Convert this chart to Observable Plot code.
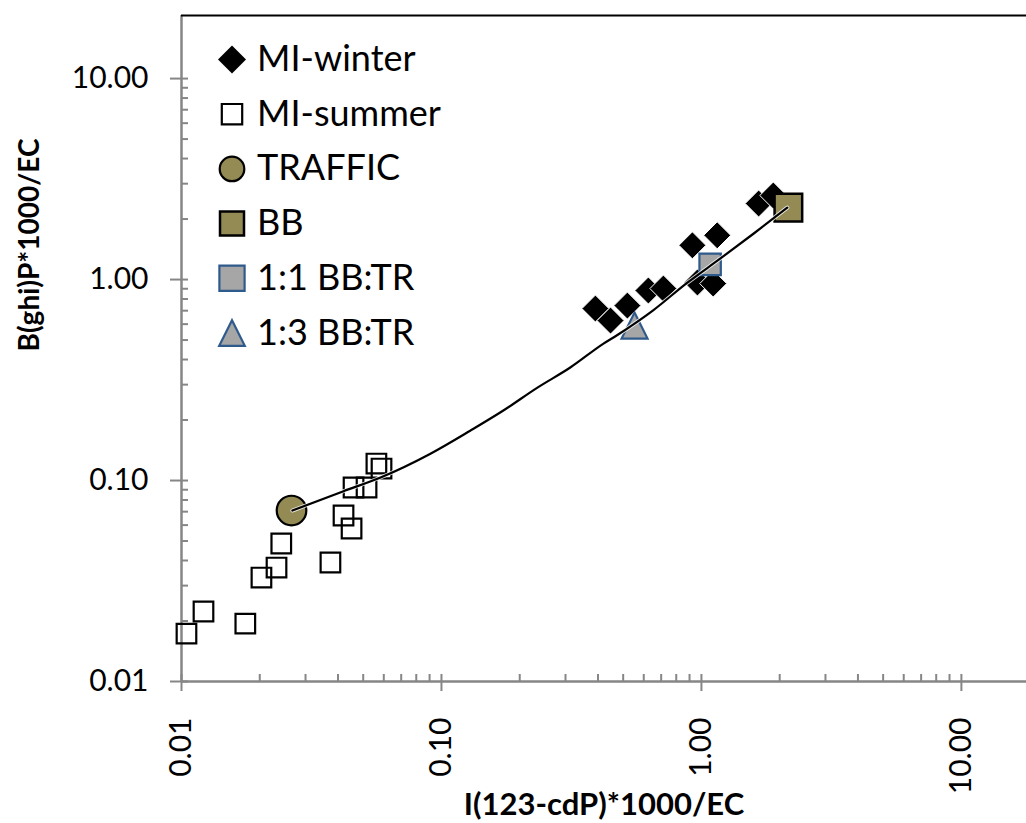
<!DOCTYPE html>
<html>
<head>
<meta charset="utf-8">
<script src="https://cdn.jsdelivr.net/npm/d3@7"></script>
<script src="https://cdn.jsdelivr.net/npm/@observablehq/plot@0.6"></script>
<style>
html, body { margin: 0; padding: 0; background: #fff; }
#wrap { position: relative; width: 1026px; height: 823px; font-family: Lato, "Open Sans", sans-serif; }
#wrap svg { display: block; }
#legend { position: absolute; left: 0; top: 0; pointer-events: none; }
</style>
</head>
<body>
<div id="wrap"></div>
<script>
// ---------- data ----------
const seriesNames = ["MI-winter", "MI-summer", "TRAFFIC", "BB", "1:1 BB:TR", "1:3 BB:TR"];

const winterX = [0.391, 0.447, 0.519, 0.625, 0.714, 0.923, 1.15, 0.965, 1.11, 1.66, 1.89];
const winterY = [0.717, 0.625, 0.742, 0.882, 0.902, 1.48, 1.66, 0.967, 0.955, 2.39, 2.62];

const summerX = [0.01045, 0.01215, 0.0176, 0.0203, 0.0232, 0.0242, 0.0374, 0.042, 0.0451, 0.0459, 0.0515, 0.0562, 0.0588];
const summerY = [0.0173, 0.0223, 0.0194, 0.0329, 0.0369, 0.0486, 0.0391, 0.067, 0.0577, 0.0923, 0.0923, 0.1215, 0.1147];

const trafficX = [0.0265];
const trafficY = [0.0709];
const bbX = [2.16];
const bbY = [2.28];
const mix11X = [1.08];
const mix11Y = [1.19];
const mix13X = [0.553];
const mix13Y = [0.59];

// mixing line
const lineX = [0.0267, 0.042, 0.0583, 0.0907, 0.129, 0.173, 0.234, 0.313, 0.420, 0.475, 0.654, 0.883, 1.18, 1.585, 2.14];
const lineY = [0.0709, 0.0885, 0.1035, 0.136, 0.177, 0.223, 0.290, 0.365, 0.480, 0.530, 0.705, 0.965, 1.27, 1.69, 2.28];

const xTickValues = [0.01, 0.1, 1, 10];
const xTickLabels = ["0.01", "0.10", "1.00", "10.00"];
const yTickValues = [0.01, 0.1, 1, 10];
const yTickLabels = ["0.01", "0.10", "1.00", "10.00"];
const minorTickValues = [0.02, 0.03, 0.04, 0.05, 0.06, 0.07, 0.08, 0.09,
                         0.2, 0.3, 0.4, 0.5, 0.6, 0.7, 0.8, 0.9,
                         2, 3, 4, 5, 6, 7, 8, 9];

const xTitle = "I(123-cdP)*1000/EC";
const yTitle = "B(ghi)P*1000/EC";

// ---------- helpers ----------
const pts = (xs, ys) => xs.map((x, i) => ({x, y: ys[i]}));
const half = (size) => Math.sqrt(size / Math.PI);
const symSquare = {draw(ctx, size) { const r = half(size); ctx.rect(-r, -r, 2 * r, 2 * r); }};
const symDiamond = {draw(ctx, size) { const r = half(size); ctx.moveTo(0, -r); ctx.lineTo(r, 0); ctx.lineTo(0, r); ctx.lineTo(-r, 0); ctx.closePath(); }};
const symTriangle = {draw(ctx, size) { const r = half(size); ctx.moveTo(0, -r); ctx.lineTo(r, r); ctx.lineTo(-r, r); ctx.closePath(); }};

const olive = "#948A54";
const grayFill = "#A6A6A6";
const blueStroke = "#2F5A8C";
const axisGray = "#868686";
const font = "Lato, 'Open Sans', sans-serif";

const W = 1026, H = 823;
const mL = 181, mR = 0, mT = 15, mB = 142;

const chart = Plot.plot({
  width: W,
  height: H,
  marginLeft: mL,
  marginRight: mR,
  marginTop: mT,
  marginBottom: mB,
  x: {type: "log", domain: [0.01, 17.8], axis: null},
  y: {type: "log", domain: [0.01, 20.6], axis: null},
  style: {fontFamily: font, background: "white", color: "#000", overflow: "visible"},
  marks: [
    // axis lines
    Plot.ruleX([0.01], {stroke: axisGray, strokeWidth: 2.5}),
    Plot.ruleY([0.01], {stroke: axisGray, strokeWidth: 2.5}),
    Plot.ruleY([20.6], {stroke: "#000", strokeWidth: 2}),
    // ticks
    Plot.axisX({ticks: minorTickValues, tickSize: 7, dy: -7, stroke: axisGray, strokeWidth: 2, fill: "none", label: null}),
    Plot.axisX({ticks: xTickValues, tickSize: 17, dy: -7, stroke: axisGray, strokeWidth: 2, fill: "none", label: null}),
    Plot.axisY({ticks: minorTickValues, tickSize: 7, dx: 7, stroke: axisGray, strokeWidth: 2, fill: "none", label: null}),
    Plot.axisY({ticks: yTickValues, tickSize: 18, dx: 7, stroke: axisGray, strokeWidth: 2, fill: "none", label: null}),
    // tick labels
    Plot.text(yTickValues, {y: d => d, frameAnchor: "left", dx: -33, textAnchor: "end", lineAnchor: "middle",
      text: (d, i) => yTickLabels[i], fontSize: 30, fill: "#000"}),
    Plot.text(xTickValues, {x: d => d, frameAnchor: "bottom", dy: 36, rotate: -90, textAnchor: "end", lineAnchor: "middle",
      text: (d, i) => xTickLabels[i], fontSize: 30, fill: "#000"}),
    // axis titles
    Plot.text([xTitle], {frameAnchor: "bottom", dy: 124, lineAnchor: "middle", text: d => d, fontSize: 31, fontWeight: "bold", fill: "#000"}),
    Plot.text([yTitle], {frameAnchor: "left", dx: -151, dy: 3, rotate: -90, lineAnchor: "middle", text: d => d, fontSize: 28, fontWeight: "bold", fill: "#000"}),
    // series
    Plot.dot(pts(winterX, winterY), {x: "x", y: "y", symbol: symDiamond, r: 13.5, fill: "#000", stroke: "#fff", strokeWidth: 1}),
    Plot.dot(pts(summerX, summerY), {x: "x", y: "y", symbol: symSquare, r: 9.8, fill: "none", stroke: "#000", strokeWidth: 2.2}),
    Plot.dot(pts(trafficX, trafficY), {x: "x", y: "y", symbol: "circle", r: 14.8, fill: olive, stroke: "#000", strokeWidth: 2.2}),
    Plot.dot(pts(bbX, bbY), {x: "x", y: "y", symbol: symSquare, r: 13.8, fill: olive, stroke: "#000", strokeWidth: 2.5}),
    Plot.dot(pts(mix11X, mix11Y), {x: "x", y: "y", symbol: symSquare, r: 10.7, fill: grayFill, stroke: blueStroke, strokeWidth: 2.2}),
    Plot.dot(pts(mix13X, mix13Y), {x: "x", y: "y", symbol: symTriangle, r: 13, fill: grayFill, stroke: blueStroke, strokeWidth: 2.2}),
    // mixing line
    Plot.line(pts(lineX, lineY), {x: "x", y: "y", stroke: "#fff", strokeWidth: 4, strokeOpacity: 0.8, curve: "monotone-x"}),
    Plot.line(pts(lineX, lineY), {x: "x", y: "y", stroke: "#000", strokeWidth: 2.2, curve: "monotone-x"})
  ]
});

const wrap = document.getElementById("wrap");
wrap.appendChild(chart);

// ---------- legend (overlay) ----------
const legendItems = [
  {name: seriesNames[0], sym: symDiamond, r: 14, fill: "#000", stroke: "none", sw: 0},
  {name: seriesNames[1], sym: symSquare, r: 10.2, fill: "#fff", stroke: "#000", sw: 2.2},
  {name: seriesNames[2], sym: d3.symbolCircle, r: 12.3, fill: olive, stroke: "#000", sw: 2.2},
  {name: seriesNames[3], sym: symSquare, r: 12, fill: olive, stroke: "#000", sw: 2.5},
  {name: seriesNames[4], sym: symSquare, r: 12.6, fill: grayFill, stroke: blueStroke, sw: 2.2},
  {name: seriesNames[5], sym: symTriangle, r: 12.8, fill: grayFill, stroke: blueStroke, sw: 2.2}
];
const lsvg = d3.select(wrap).append("svg")
  .attr("id", "legend").attr("width", W).attr("height", H);
const rows = lsvg.selectAll("g").data(legendItems).join("g")
  .attr("transform", (d, i) => `translate(232, ${59.5 + 54.7 * i})`);
rows.append("path")
  .attr("d", d => d3.symbol(d.sym, d.r * d.r * Math.PI)())
  .attr("fill", d => d.fill).attr("stroke", d => d.stroke).attr("stroke-width", d => d.sw);
rows.append("text")
  .attr("x", 25).attr("y", 11.5)
  .attr("font-family", font).attr("font-size", 36).attr("fill", "#000")
  .text(d => d.name);
</script>
</body>
</html>
